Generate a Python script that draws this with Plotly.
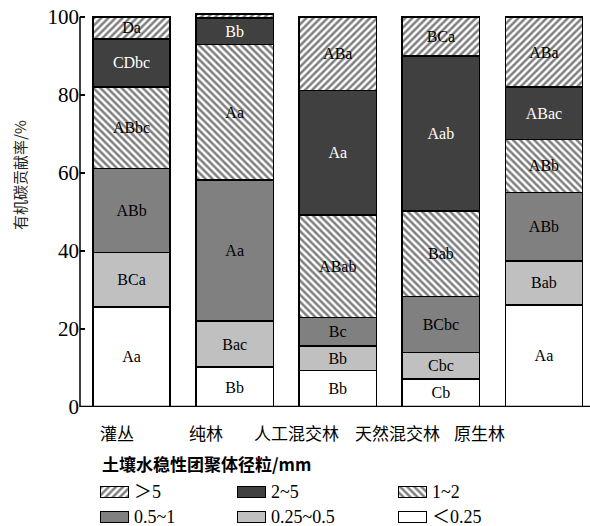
import plotly.graph_objects as go

# Organic carbon contribution (%) of soil water-stable aggregate size classes
categories = ["灌丛", "纯林", "人工混交林", "天然混交林", "原生林"]

lt_025 = [25.7, 10.2, 9.3, 7.2, 26.2]
s_025_05 = [13.9, 11.9, 6.4, 6.8, 11.2]
s_05_1 = [21.6, 36.1, 7.3, 14.3, 17.6]
s_1_2 = [20.9, 34.8, 26.2, 22.0, 13.6]
s_2_5 = [12.3, 6.7, 31.9, 39.7, 13.4]
gt_5 = [5.6, 1.1, 18.9, 10.0, 18.0]

# significance letters per segment
sig_lt_025 = ["Aa", "Bb", "Bb", "Cb", "Aa"]
sig_025_05 = ["BCa", "Bac", "Bb", "Cbc", "Bab"]
sig_05_1 = ["ABb", "Aa", "Bc", "BCbc", "ABb"]
sig_1_2 = ["ABbc", "Aa", "ABab", "Bab", "ABb"]
sig_2_5 = ["CDbc", "Bb", "Aa", "Aab", "ABac"]
sig_gt_5 = ["Da", "", "ABa", "BCa", "ABa"]

series_names = [">5", "2~5", "1~2", "0.5~1", "0.25~0.5", "<0.25"]
legend_labels = ["＞5", "2~5", "1~2", "0.5~1", "0.25~0.5", "＜0.25"]
y_ticks = [0, 20, 40, 60, 80, 100]

W, H = 590, 526
TOP = 11
PLOT_BOTTOM = 407
PX_PER_UNIT = 3.9
paper_h = H - TOP

SERIF = "Liberation Serif, Noto Sans CJK SC, serif"
CJK = "Noto Sans CJK SC, sans-serif"

styles = {
    ">5": dict(color="white", pattern=dict(shape="/", fgcolor="black", bgcolor="white", size=5, solidity=0.5), txt="black"),
    "2~5": dict(color="#404040", pattern=None, txt="white"),
    "1~2": dict(color="white", pattern=dict(shape="\\", fgcolor="black", bgcolor="white", size=5, solidity=0.5), txt="black"),
    "0.5~1": dict(color="#808080", pattern=None, txt="black"),
    "0.25~0.5": dict(color="#c0c0c0", pattern=None, txt="black"),
    "<0.25": dict(color="white", pattern=None, txt="black"),
}

def marker_for(name, line_w=1.5):
    st = styles[name]
    m = dict(color=st["color"], line=dict(color="black", width=line_w))
    if st["pattern"]:
        m["pattern"] = st["pattern"]
    return m

fig = go.Figure()

stack = [
    ("<0.25", lt_025, sig_lt_025),
    ("0.25~0.5", s_025_05, sig_025_05),
    ("0.5~1", s_05_1, sig_05_1),
    ("1~2", s_1_2, sig_1_2),
    ("2~5", s_2_5, sig_2_5),
    (">5", gt_5, sig_gt_5),
]
xpos = list(range(len(categories)))
for name, vals, sig in stack:
    fig.add_trace(go.Bar(
        x=xpos, y=vals, name=name, width=0.75,
        marker=marker_for(name),
        text=sig, textposition="inside", insidetextanchor="middle",
        constraintext="none",
        textfont=dict(family=SERIF, size=16, color=styles[name]["txt"]),
        showlegend=False, hoverinfo="skip",
        xaxis="x", yaxis="y",
    ))

# legend swatches drawn in a pixel-unit subplot below the chart
sw_cols_left = [100, 237, 398]
sw_w = 28
sw_rows_top = [486, 511.5]
sw_h = 11
for i, name in enumerate(series_names):
    r, c = divmod(i, 3)
    left = sw_cols_left[c]
    top = sw_rows_top[r]
    base = H - top - sw_h
    fig.add_trace(go.Bar(
        x=[left + sw_w / 2], y=[sw_h], base=[base], width=sw_w,
        marker=marker_for(name, 1),
        showlegend=False, hoverinfo="skip", xaxis="x2", yaxis="y2",
    ))
    fig.add_annotation(
        x=left + sw_w + 4, y=H - top - sw_h / 2, xref="x2", yref="y2",
        text=legend_labels[i], showarrow=False, xanchor="left", yanchor="middle",
        font=dict(family=SERIF, size=18, color="black"),
    )

# category labels under the bars
label_centers_px = [117, 206, 297, 397, 479]
for lab, cx in zip(categories, label_centers_px):
    fig.add_annotation(
        x=cx / W, y=(H - 432) / paper_h, xref="paper", yref="paper",
        text=lab, showarrow=False, xanchor="center", yanchor="middle",
        font=dict(family=CJK, size=17, color="black"),
    )

# legend title
fig.add_annotation(
    x=100 / W, y=(H - 463) / paper_h, xref="paper", yref="paper",
    text="<b>土壤水稳性团聚体径粒/mm</b>", showarrow=False,
    xanchor="left", yanchor="middle",
    font=dict(family=CJK, size=17, color="black"),
)

# y-axis title
fig.add_annotation(
    x=19 / W, y=(H - 175) / paper_h, xref="paper", yref="paper",
    text="有机碳贡献率/%", textangle=-90, showarrow=False,
    xanchor="center", yanchor="middle",
    font=dict(family=CJK, size=15, color="#222"),
)

# axis lines
fig.add_shape(type="line", xref="x domain", yref="y", x0=0, x1=0, y0=0, y1=100,
              line=dict(color="black", width=1.5))
fig.add_shape(type="line", xref="x domain", yref="y", x0=0, x1=1, y0=0, y1=0,
              line=dict(color="black", width=2.5))

y_top = (PLOT_BOTTOM - TOP) / PX_PER_UNIT
fig.update_layout(
    width=W, height=H, autosize=False,
    margin=dict(l=0, r=0, t=TOP, b=0, pad=0, autoexpand=False),
    paper_bgcolor="white", plot_bgcolor="rgba(0,0,0,0)",
    barmode="stack",
    xaxis=dict(domain=[80 / W, 1], range=[-0.5, (W - 80) / 103.1 - 0.5],
               showticklabels=False, ticks="", showgrid=False, zeroline=False,
               showline=False, fixedrange=True, automargin=False),
    yaxis=dict(domain=[(H - PLOT_BOTTOM) / paper_h, 1], range=[0, y_top],
               tickvals=y_ticks, ticktext=[str(v) for v in y_ticks],
               ticks="inside", ticklen=5, tickwidth=1.5, tickcolor="black",
               tickfont=dict(family=SERIF, size=21, color="black"),
               showgrid=False, zeroline=False, showline=False, fixedrange=True,
               automargin=False),
    xaxis2=dict(domain=[0, 1], range=[0, W], visible=False, fixedrange=True,
                anchor="y2", automargin=False),
    yaxis2=dict(domain=[0, 100 / paper_h], range=[0, 100], visible=False, fixedrange=True,
                anchor="x2", automargin=False),
    font=dict(family=SERIF),
)

fig.write_html("out.html")
